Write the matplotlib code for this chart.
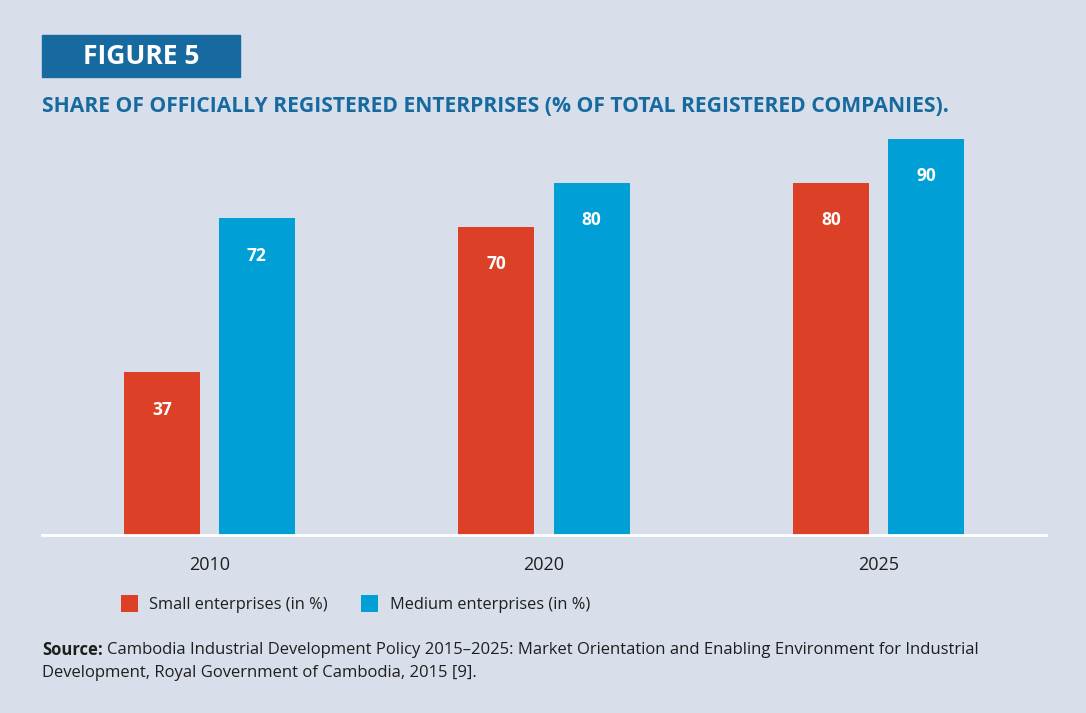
import matplotlib.pyplot as plt
import numpy as np

years = ['2010', '2020', '2025']
small = [37, 70, 80]
medium = [72, 80, 90]

bg = '#d9dfea'
red = '#dc4128'
blue = '#00a0d6'
navy = '#176aa0'
ink = '#1e1e1e'

fig = plt.figure(figsize=(10.86, 7.13), dpi=100, facecolor=bg)
ax = fig.add_axes([42 / 1086, 1 - 535 / 713, 1004 / 1086, 440 / 713])
ax.set_facecolor(bg)

x = np.arange(len(years))
w = 0.227
off = 0.142
b1 = ax.bar(x - off, small, w, color=red, label='Small enterprises (in %)')
b2 = ax.bar(x + off, medium, w, color=blue, label='Medium enterprises (in %)')

# value labels sit just inside the top of each bar
for bars in (b1, b2):
    for b in bars:
        h = b.get_height()
        ax.text(b.get_x() + b.get_width() / 2, h - 8.5, f'{h:g}', ha='center', va='center',
                color='white', fontsize=12.5, fontweight='bold', family='Open Sans')

ax.set_xlim(-0.5, 2.5)
ax.set_ylim(0, 100)
for s in ['top', 'right', 'left']:
    ax.spines[s].set_visible(False)
ax.spines['bottom'].set_color('white')
ax.spines['bottom'].set_linewidth(2)
ax.set_yticks([])
ax.set_xticks(x)
ax.set_xticklabels(years, fontsize=13, family='Open Sans', color=ink)
ax.tick_params(axis='x', length=0, pad=15)

leg = fig.legend(loc='upper left', bbox_to_anchor=(106 / 1086, 1 - 580 / 713), ncol=2, frameon=False,
                 prop={'family': 'Open Sans', 'size': 11.8}, handlelength=1.05, handleheight=1.25,
                 columnspacing=2.0, handletextpad=0.7)
for t in leg.get_texts():
    t.set_color(ink)

# header box and title
fig.patches.append(plt.Rectangle((42 / 1086, 1 - 77 / 713), 198 / 1086, 42 / 713,
                                 transform=fig.transFigure, color=navy, zorder=0))
fig.text(141 / 1086, 1 - 57 / 713, 'FIGURE 5', ha='center', va='center', color='white',
         fontsize=19, fontweight='bold', family='Open Sans')
fig.text(42 / 1086, 1 - 107 / 713, 'SHARE OF OFFICIALLY REGISTERED ENTERPRISES (% OF TOTAL REGISTERED COMPANIES).',
         ha='left', va='center', color=navy, fontsize=15.2, fontweight='bold',
         family='Open Sans', fontstretch='condensed')

# source note: bold lead-in followed by the citation
src = fig.text(42 / 1086, 1 - 650 / 713, 'Source:', ha='left', va='center', fontsize=12,
               fontweight='bold', family='Open Sans', color=ink)
fig.canvas.draw()
bb = src.get_window_extent()
fig.text((bb.x1 + 4) / 1086, 1 - 650 / 713,
         'Cambodia Industrial Development Policy 2015–2025: Market Orientation and Enabling Environment for Industrial',
         ha='left', va='center', fontsize=12, family='Open Sans', color=ink)
fig.text(42 / 1086, 1 - 673 / 713, 'Development, Royal Government of Cambodia, 2015 [9].',
         ha='left', va='center', fontsize=12, family='Open Sans', color=ink)

fig.savefig('out.png', dpi=100, facecolor=bg)
